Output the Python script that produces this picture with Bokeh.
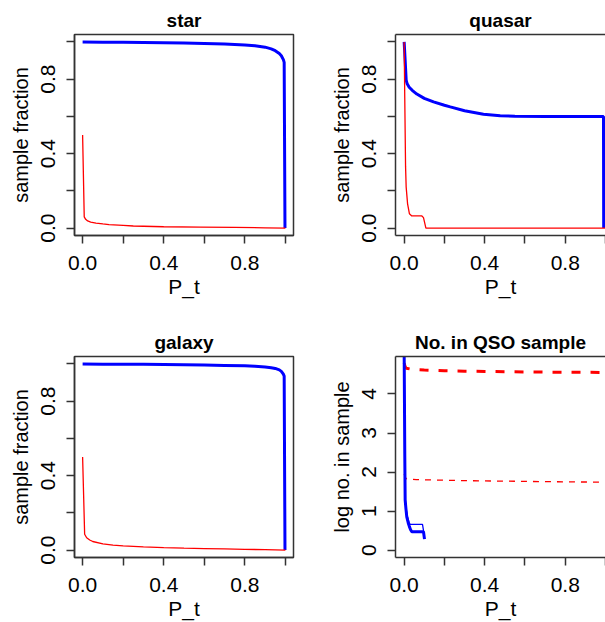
from bokeh.plotting import figure
from bokeh.layouts import gridplot
from bokeh.models import Range1d, FixedTicker, PrintfTickFormatter, LinearAxis
from bokeh.embed import file_html
from bokeh.resources import INLINE

# ---------------- data ----------------
# star panel
star_blue_x = [0, 0.1, 0.2, 0.3, 0.4, 0.5, 0.6, 0.7, 0.8, 0.85, 0.9, 0.93, 0.95, 0.97, 0.98, 0.99, 0.994, 0.998]
star_blue_y = [1.0, 0.999, 0.998, 0.997, 0.996, 0.994, 0.992, 0.989, 0.984, 0.980, 0.972, 0.963, 0.953, 0.938, 0.926, 0.905, 0.89, 0.0]
star_red_x = [0, 0.008, 0.015, 0.025, 0.04, 0.066, 0.1, 0.13, 0.2, 0.25, 0.4, 0.58, 0.75, 0.9, 1.0]
star_red_y = [0.5, 0.06, 0.047, 0.038, 0.032, 0.027, 0.022, 0.018, 0.014, 0.011, 0.007, 0.005, 0.0035, 0.0015, 0.0]

# quasar panel
qso_blue_x = [0, 0.005, 0.01, 0.015, 0.025, 0.04, 0.063, 0.1, 0.146, 0.2, 0.229, 0.3, 0.394, 0.477, 0.55, 0.7, 0.85, 0.99, 0.991]
qso_blue_y = [1.0, 0.9, 0.795, 0.775, 0.757, 0.74, 0.72, 0.697, 0.678, 0.66, 0.651, 0.63, 0.612, 0.603, 0.601, 0.6, 0.6, 0.6, 0.0]
qso_red_x = [0, 0.003, 0.007, 0.01, 0.017, 0.026, 0.038, 0.088, 0.096, 0.108, 1.0]
qso_red_y = [1.0, 0.7, 0.33, 0.22, 0.13, 0.077, 0.065, 0.065, 0.056, 0.0, 0.0]

# galaxy panel
gal_blue_x = [0, 0.1, 0.2, 0.3, 0.4, 0.5, 0.6, 0.7, 0.8, 0.85, 0.9, 0.93, 0.95, 0.97, 0.98, 0.99, 0.994, 0.998]
gal_blue_y = [1.0, 0.999, 0.999, 0.998, 0.997, 0.996, 0.994, 0.992, 0.99, 0.988, 0.984, 0.98, 0.976, 0.968, 0.96, 0.945, 0.935, 0.0]
gal_red_x = [0, 0.01, 0.02, 0.035, 0.05, 0.1, 0.15, 0.2, 0.3, 0.4, 0.5, 0.6, 0.7, 0.8, 0.9, 1.0]
gal_red_y = [0.5, 0.085, 0.066, 0.054, 0.046, 0.033, 0.027, 0.022, 0.017, 0.013, 0.010, 0.008, 0.006, 0.004, 0.002, 0.0]

# No. in QSO sample panel (log10 counts)
n_red_thick_x = [0, 0.005, 0.01, 0.03, 0.06, 0.1, 0.2, 0.3, 0.4, 0.6, 0.8, 1.0]
n_red_thick_y = [4.79, 4.7, 4.66, 4.64, 4.625, 4.615, 4.595, 4.585, 4.578, 4.566, 4.557, 4.553]
n_red_thin_x = [0, 0.005, 0.01, 0.03, 0.06, 0.1, 0.2, 0.3, 0.4, 0.6, 0.8, 1.0]
n_red_thin_y = [1.95, 1.87, 1.83, 1.815, 1.805, 1.8, 1.79, 1.78, 1.772, 1.76, 1.748, 1.74]
n_blue_thick_x = [0, 0.003, 0.005, 0.009, 0.013, 0.02, 0.026, 0.032, 0.038, 0.096, 0.101]
n_blue_thick_y = [5.1, 2.5, 1.28, 1.05, 0.85, 0.7, 0.6, 0.52, 0.47, 0.47, 0.28]
n_blue_thin_x = [0, 0.005, 0.01, 0.017, 0.025, 0.03, 0.091, 0.097]
n_blue_thin_y = [5.1, 1.35, 1.05, 0.85, 0.7, 0.66, 0.66, 0.47]

# axis ticks / labels
frac_major = [0.0, 0.4, 0.8]
frac_minor = [0.2, 0.6, 1.0]
count_major = [0, 1, 2, 3, 4]
count_ylim = (0.0, 4.77)
titles = ["star", "quasar", "galaxy", "No. in QSO sample"]

# ---------------- styling ----------------
FONT = "Liberation Sans"
AX = "#333333"
BLUE = "#0000ff"
RED = "#ff0000"


def ext(lo, hi, f=0.04):
    d = (hi - lo) * f
    return lo - d, hi + d


def style_axis(ax, ticks, minor, fmt, lab, lab_size, lab_standoff, standoff):
    ax.ticker = FixedTicker(ticks=ticks, minor_ticks=minor)
    ax.formatter = PrintfTickFormatter(format=fmt)
    ax.axis_line_color = AX
    ax.axis_line_width = 1.5
    ax.major_tick_line_color = AX
    ax.minor_tick_line_color = AX
    ax.major_tick_line_width = 1.5
    ax.minor_tick_line_width = 1.5
    ax.major_tick_out = 8
    ax.major_tick_in = 0
    ax.minor_tick_out = 8
    ax.minor_tick_in = 0
    ax.major_label_text_font = FONT
    ax.major_label_text_font_size = "21px"
    ax.major_label_text_color = "black"
    ax.axis_label = lab
    ax.axis_label_text_font = FONT
    ax.axis_label_text_font_size = lab_size
    ax.axis_label_text_font_style = "normal"
    ax.axis_label_text_color = "black"
    ax.major_label_standoff = standoff
    ax.axis_label_standoff = lab_standoff


def make_fig(title, left, top, ylabel, yticks, yminor, yfmt, ylim):
    if left:
        fw, mbl, mbr = 219, 74, 17
        xr = Range1d(*ext(0, 1))
    else:
        fw, mbl, mbr = 210, 85, 0
        xr = Range1d(-0.043, 1.0)
    if top:
        mbt, mbb = 34, 76
    else:
        mbt, mbb = 45, 65
    yr = Range1d(*ext(*ylim))
    p = figure(frame_width=fw, frame_height=201, min_border_left=mbl, min_border_right=mbr,
               min_border_top=mbt, min_border_bottom=mbb, x_range=xr, y_range=yr,
               output_backend="svg", toolbar_location=None, title=title)
    p.background_fill_color = "white"
    p.border_fill_color = "white"
    p.grid.grid_line_color = None
    p.title.align = "center"
    p.title.text_font = FONT
    p.title.text_font_size = "19px"
    p.title.text_font_style = "bold"
    p.title.text_color = "black"
    p.title.standoff = 8
    style_axis(p.below[0], frac_major, frac_minor, "%.1f", "P_t", "21px", 2, 12)
    style_axis(p.left[0], yticks, yminor, yfmt, ylabel, "20px", 7, 11)
    p.left[0].major_label_orientation = "vertical"
    if left:
        p.outline_line_color = AX
        p.outline_line_width = 1.5
    else:
        p.outline_line_color = None
        topax = LinearAxis(ticker=FixedTicker(ticks=[]), axis_line_color=AX, axis_line_width=1.5,
                           major_tick_out=0, major_tick_in=0, minor_tick_out=0, minor_tick_in=0,
                           major_label_standoff=0, axis_label_standoff=0)
        p.add_layout(topax, "above")
    return p


p1 = make_fig(titles[0], True, True, "sample fraction", frac_major, frac_minor, "%.1f", (0, 1))
p1.line(star_blue_x, star_blue_y, line_color=BLUE, line_width=3)
p1.line(star_red_x, star_red_y, line_color=RED, line_width=1.3)

p2 = make_fig(titles[1], False, True, "sample fraction", frac_major, frac_minor, "%.1f", (0, 1))
p2.line(qso_blue_x, qso_blue_y, line_color=BLUE, line_width=3)
p2.line(qso_red_x, qso_red_y, line_color=RED, line_width=1.3)

p3 = make_fig(titles[2], True, False, "sample fraction", frac_major, frac_minor, "%.1f", (0, 1))
p3.line(gal_blue_x, gal_blue_y, line_color=BLUE, line_width=3)
p3.line(gal_red_x, gal_red_y, line_color=RED, line_width=1.3)

p4 = make_fig(titles[3], False, False, "log no. in sample", count_major, [], "%d", count_ylim)
p4.line(n_red_thick_x, n_red_thick_y, line_color=RED, line_width=3, line_dash="9 10")
p4.line(n_red_thin_x, n_red_thin_y, line_color=RED, line_width=1.3, line_dash="6 6")
p4.line(n_blue_thick_x, n_blue_thick_y, line_color=BLUE, line_width=3)
p4.line(n_blue_thin_x, n_blue_thin_y, line_color=BLUE, line_width=1.3)

grid = gridplot([[p1, p2], [p3, p4]], toolbar_location=None)

open("out.html", "w").write(file_html(grid, INLINE))
